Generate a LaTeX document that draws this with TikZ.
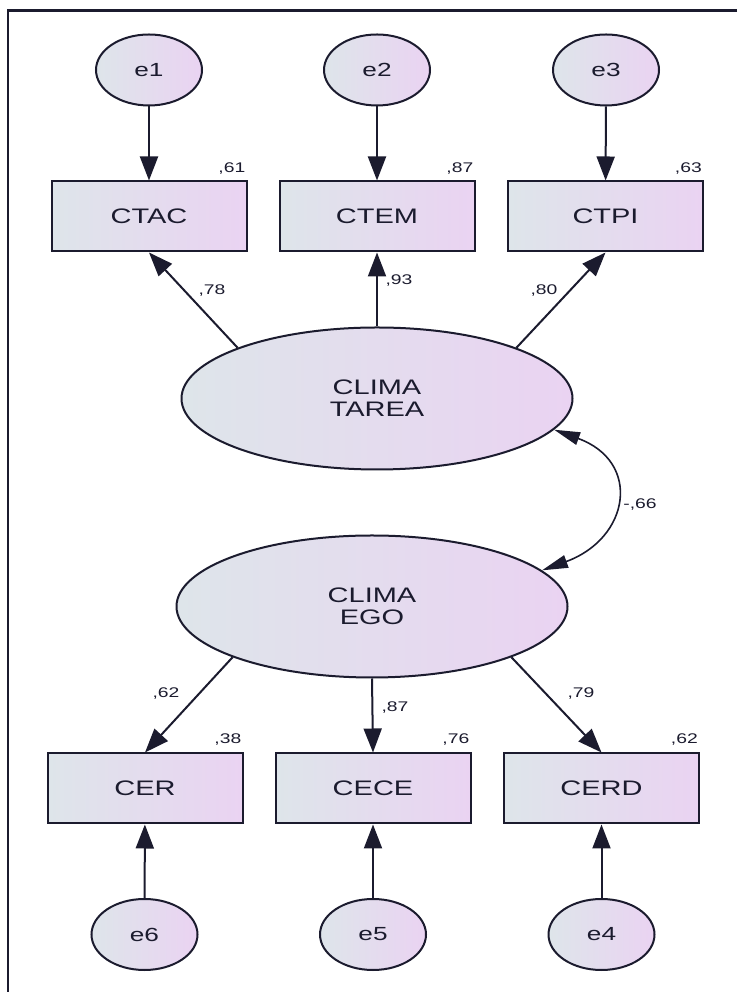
\documentclass[tikz,border=0pt]{standalone}
\usepackage{fontspec}
\setmainfont{Liberation Sans}[FakeStretch=1.38]
\usepackage{tikz}
\usetikzlibrary{shapes.geometric}
\usetikzlibrary{arrows.meta, positioning}

\definecolor{fillleft}{HTML}{DEE5EA}
\definecolor{fillright}{HTML}{EAD3F2}
\definecolor{inkdark}{HTML}{1B1B2E}

\begin{document}
\begin{tikzpicture}[x=1pt, y=1pt,
    every node/.style={text=inkdark},
    obsbox/.style={draw=inkdark, line width=2pt, rectangle, minimum width=195pt, minimum height=70pt, left color=fillleft, right color=fillright, font=\fontsize{21}{22}\selectfont},
    errnode/.style={draw=inkdark, line width=2pt, ellipse, minimum width=106pt, minimum height=71pt, inner sep=0pt, left color=fillleft, right color=fillright, font=\fontsize{19}{20}\selectfont},
    latent/.style={draw=inkdark, line width=2pt, ellipse, minimum width=391pt, minimum height=142pt, align=center, left color=fillleft, right color=fillright, font=\fontsize{21}{22}\selectfont},
    coef/.style={inner sep=0pt, font=\fontsize{14}{15}\selectfont},
    loading/.style={draw=inkdark, line width=2pt, -{Triangle[length=24pt, width=18pt]}},
    covpath/.style={draw=inkdark, line width=1.6pt, {Triangle[length=26pt, width=13pt]}-{Triangle[length=26pt, width=13pt]}}
]

\useasboundingbox (0,0) rectangle (737,992);

% Frame (top and left edge)
\draw[line width=2.5pt, inkdark] (737,981.5) -- (8,981.5) -- (8,0);

% Error terms, top row
\foreach \n/\x in {e1/149, e2/377, e3/606}
{
    \node[errnode] (\n) at (\x,922) {\n};
}

% Indicators, top row
\foreach \n/\x/\lbl in {ctac/149/CTAC, ctem/377/CTEM, ctpi/605.5/CTPI}
{
    \node[obsbox] (\n) at (\x,775.5) {\lbl};
}

% Latent factors
\node[latent] (tarea) at (377,593.5) {CLIMA\\TAREA};
\node[latent] (ego) at (372,385.5) {CLIMA\\EGO};

% Indicators, bottom row
\foreach \n/\x/\lbl in {cer/145/CER, cece/373/CECE, cerd/601.5/CERD}
{
    \node[obsbox] (\n) at (\x,203.5) {\lbl};
}

% Error terms, bottom row
\foreach \n/\x in {e6/144.5, e5/373, e4/601.5}
{
    \node[errnode] (\n) at (\x,57.5) {\n};
}

% Squared multiple correlations
\foreach \n/\v in {ctac/61, ctem/87, ctpi/63}
{
    \node[coef, above left=6pt and 2pt of \n.north east] (r\n) {,\v};
}
\foreach \n/\v in {cer/38, cece/76, cerd/62}
{
    \node[coef, above left=7pt and 2pt of \n.north east] (r\n) {,\v};
}

% Error arrows
\foreach \a/\b in {e1/ctac, e2/ctem, e3/ctpi, e6/cer, e5/cece, e4/cerd}
{
    \draw[loading] (\a) -- (\b);
}

% Factor loadings
\draw[loading] (tarea.160) -- (ctac.south);
\draw[loading] (tarea.north) -- (ctem.south);
\draw[loading] (tarea.20) -- (ctpi.south);
\draw[loading] (ego.200) -- (cer.north);
\draw[loading] (ego.south) -- (cece.north);
\draw[loading] (ego.340) -- (cerd.north);

% Loading values
\node[coef] (l78) at (212,701) {,78};
\node[coef] (l93) at (399,711) {,93};
\node[coef] (l80) at (544,701) {,80};
\node[coef] (l62) at (166,298) {,62};
\node[coef] (l87) at (395,284.5) {,87};
\node[coef] (l79) at (581,298) {,79};

% Correlation between factors
\draw[covpath] (tarea.350) to[out=-20, in=20, looseness=1.7] (ego.12);
\node[coef] (c66) at (640,487.5) {-,66};

\end{tikzpicture}
\end{document}
